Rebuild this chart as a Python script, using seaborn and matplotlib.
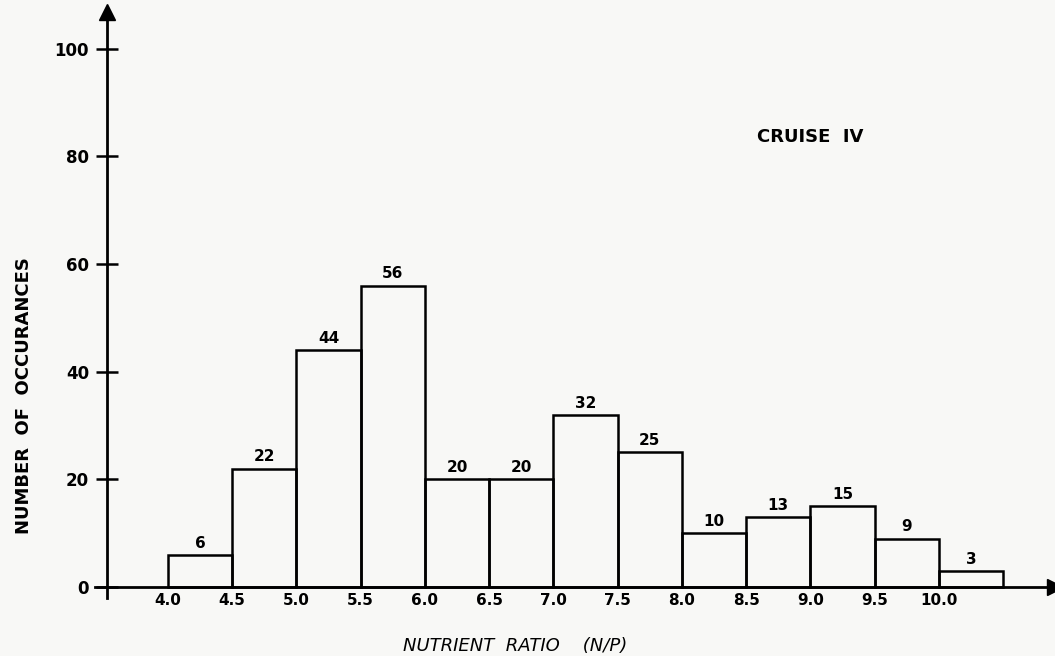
import numpy as np
import matplotlib
matplotlib.use("Agg")
import matplotlib.pyplot as plt
import seaborn as sns

# histogram data (bin edges of 0.5, N/P ratio)
bin_edges = [4.0, 4.5, 5.0, 5.5, 6.0, 6.5, 7.0, 7.5, 8.0, 8.5, 9.0, 9.5, 10.0, 10.5]
counts = [6, 22, 44, 56, 20, 20, 32, 25, 10, 13, 15, 9, 3]
x_ticks = [4.0, 4.5, 5.0, 5.5, 6.0, 6.5, 7.0, 7.5, 8.0, 8.5, 9.0, 9.5, 10.0]
y_ticks = [0, 20, 40, 60, 80, 100]

bin_mid = [(a + b) / 2 for a, b in zip(bin_edges[:-1], bin_edges[1:])]

sns.set_style("white")
plt.rcParams["font.family"] = ["DejaVu Sans"]
plt.rcParams["text.color"] = "black"
plt.rcParams["xtick.color"] = "black"
plt.rcParams["ytick.color"] = "black"
plt.rcParams["axes.labelcolor"] = "black"

bg = "#f8f8f6"
fig = plt.figure(figsize=(10.55, 6.56), dpi=100, facecolor=bg)
ax = fig.add_axes([95 / 1055, (656 - 598) / 656, 960 / 1055, 586 / 656])
ax.set_facecolor(bg)

sns.histplot(x=bin_mid, weights=counts, bins=bin_edges, fill=False,
             color="black", linewidth=1.8, ax=ax)

ax.bar_label(ax.containers[0], labels=[str(c) for c in counts], padding=3,
             fontsize=11, fontweight="bold")

ax.set_xlim(3.432, 10.903)
ax.set_ylim(-2.04, 106.8)

# axes drawn like the hand-made original
for s in ["top", "right"]:
    ax.spines[s].set_visible(False)
ax.spines["bottom"].set_position(("data", 0))
ax.spines["left"].set_position(("data", 3.525))
for s in ["bottom", "left"]:
    ax.spines[s].set_linewidth(2)
    ax.spines[s].set_color("black")
ax.plot(1, 0, ">k", markersize=11, transform=ax.get_yaxis_transform(), clip_on=False)
ax.plot(3.525, 1, "^k", markersize=11, transform=ax.get_xaxis_transform(), clip_on=False)

ax.set_xticks(x_ticks)
ax.set_xticklabels([f"{t:.1f}" for t in x_ticks], fontsize=11, fontweight="semibold")
ax.set_yticks(y_ticks)
ax.set_yticklabels([str(t) for t in y_ticks], fontsize=12, fontweight="bold")
ax.tick_params(axis="x", bottom=False, length=0, pad=4)
ax.tick_params(axis="y", left=True, direction="inout", length=16, width=1.8, pad=5)

ax.set_ylabel("NUMBER  OF  OCCURANCES", fontsize=13, fontweight="semibold")
ax.yaxis.set_label_coords(-0.065, 0.345)
ax.set_xlabel("NUTRIENT  RATIO    (N/P)", fontsize=13, fontstyle="italic")
ax.xaxis.set_label_coords(0.4375, -0.0666)

ax.text(8.58, 83.6, "CRUISE  IV", fontsize=13, fontweight="bold", va="center", ha="left")

fig.savefig("out.png", dpi=100, facecolor=bg)
